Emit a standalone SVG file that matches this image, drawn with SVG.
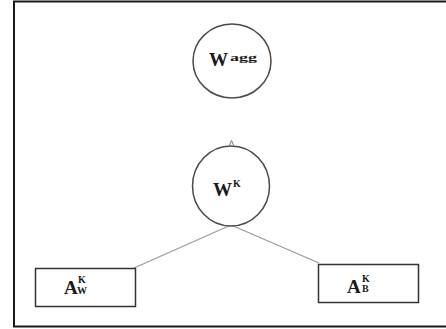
<svg xmlns="http://www.w3.org/2000/svg" width="446" height="329" viewBox="0 0 446 329">
  <style>
    .frame { fill: #ffffff; stroke: #1a1a1a; stroke-width: 2; }
    .node { fill: #ffffff; stroke: #4a4a4a; stroke-width: 1.5; }
    .box { fill: #ffffff; stroke: #333333; stroke-width: 1.5; }
    .edge { stroke: #9a9a9a; stroke-width: 1.2; fill: none; }
    .lbl { font-family: "Liberation Serif", "Times New Roman", serif; font-weight: bold; fill: #1a1a1a; }
    .big { font-size: 19px; }
    .sup { font-size: 10px; }
  </style>

  <!-- outer frame, open past the right edge -->
  <rect class="frame" x="14" y="1.5" width="450" height="325"/>

  <!-- connectors -->
  <g id="connectors">
    <line class="edge" x1="231" y1="225" x2="134" y2="268"/>
    <line class="edge" x1="231" y1="225" x2="319" y2="263"/>
    <path d="M229.5 145 L231.5 140.5 L233.5 145" fill="none" stroke="#777777" stroke-width="1"/>
  </g>

  <!-- aggregated weight node -->
  <g id="node-wagg">
    <ellipse class="node" cx="232" cy="61" rx="39" ry="37"/>
    <text class="lbl big" x="209" y="66">W</text>
    <text class="lbl sup" x="230" y="61" textLength="27" lengthAdjust="spacingAndGlyphs">agg</text>
  </g>

  <!-- K weight node -->
  <g id="node-wk">
    <ellipse class="node" cx="231" cy="186" rx="38.5" ry="40"/>
    <text class="lbl big" x="213" y="196">W</text>
    <text class="lbl sup" x="233" y="187">K</text>
  </g>

  <!-- A_W^K box -->
  <g id="node-awk">
    <rect class="box" x="35.5" y="268.5" width="100" height="38"/>
    <text class="lbl big" x="64" y="294">A</text>
    <text class="lbl sup" x="78" y="283">K</text>
    <text class="lbl sup" x="77" y="294">W</text>
  </g>

  <!-- A_B^K box -->
  <g id="node-abk">
    <rect class="box" x="318.5" y="264.5" width="100" height="38"/>
    <text class="lbl big" x="347" y="293">A</text>
    <text class="lbl sup" x="362" y="282">K</text>
    <text class="lbl sup" x="362" y="292">B</text>
  </g>
</svg>
